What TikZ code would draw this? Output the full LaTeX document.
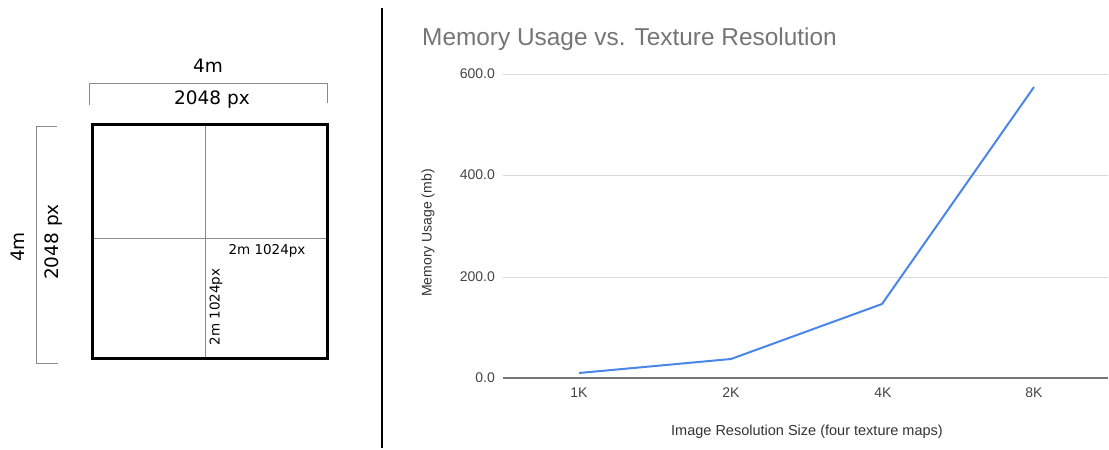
\documentclass[tikz,border=0pt]{standalone}
\usepackage{fontspec}
\setmainfont{Liberation Sans}
\newfontfamily\planfont{DejaVu Sans}
\definecolor{titlegray}{HTML}{757575}
\definecolor{labelgray}{HTML}{444444}
\definecolor{gridgray}{HTML}{D9D9D9}
\definecolor{axisgray}{HTML}{777777}
\definecolor{seriesblue}{HTML}{4A86E8}
\definecolor{bracketgray}{HTML}{8A8A8A}
\tikzset{
  bracket/.style={draw=bracketgray,line width=1},
  split/.style={draw=bracketgray,line width=1},
  dimlabel/.style={font=\planfont\fontsize{18.5}{20}\selectfont,inner sep=0},
  celllabel/.style={font=\planfont\fontsize{13.5}{15}\selectfont,inner sep=0},
  ticklabel/.style={font=\fontsize{14}{16}\selectfont,text=labelgray,inner sep=0},
  gridline/.style={draw=gridgray,line width=1},
}
\begin{document}
\begin{tikzpicture}[x=1pt,y=-1pt]
    \useasboundingbox (0,0) rectangle (1109,450);

    % texture square
    \begin{scope}
      \draw[bracket] (89,105) -- (89,83) -- (327,83) -- (327,103);
      \node[dimlabel] (topm) at (208,66) {4m};
      \node[dimlabel] (toppx) at (212,100) {2048 px};

      \draw[bracket] (57,126) -- (36,126) -- (36,363) -- (58,363);
      \node[dimlabel,rotate=90] (leftm) at (18,247) {4m};
      \node[dimlabel,rotate=90] (leftpx) at (54,242) {2048 px};

      \draw[split] (205,124) -- (205,358);
      \draw[split] (92,238) -- (327,238);
      \draw[line width=3] (92,124) rectangle (327,358);

      \node[celllabel] (cellh) at (267,251) {2m 1024px};
      \node[celllabel,rotate=90] (cellv) at (216,307) {2m 1024px};
    \end{scope}

    % divider
    \draw[line width=1.5] (382,8) -- (382,448);

    % chart
    \begin{scope}
      \node[anchor=base west,inner sep=0,text=titlegray,font=\fontsize{24.4}{27}\selectfont]
        (title) at (422,45) {Memory Usage vs. Texture Resolution};

      \path[gridline] (503,74) -- (1108,74);
      \path[gridline] (503,175) -- (1108,175);
      \path[gridline] (503,277) -- (1108,277);
      \path[draw=axisgray,line width=1.5] (503,378) -- (1108,378);

      \node[ticklabel,anchor=east] (y600) at (495,74) {600.0};
      \node[ticklabel,anchor=east] (y400) at (495,175) {400.0};
      \node[ticklabel,anchor=east] (y200) at (495,277) {200.0};
      \node[ticklabel,anchor=east] (y0) at (495,378) {0.0};

      \node[ticklabel] (x1k) at (579,393) {1K};
      \node[ticklabel] (x2k) at (731,393) {2K};
      \node[ticklabel] (x4k) at (883,393) {4K};
      \node[ticklabel] (x8k) at (1034,393) {8K};

      \node[ticklabel,text=black!80,font=\fontsize{14.5}{16}\selectfont] (xtitle) at (807,432) {Image Resolution Size (four texture maps)};
      \node[ticklabel,text=black!80,rotate=90] (ytitle) at (428,233) {Memory Usage (mb)};

      \coordinate (p1) at (579,373);
      \coordinate (p2) at (731,359);
      \coordinate (p3) at (882,304);
      \coordinate (p4) at (1034,87);
      \path[draw=seriesblue,line width=2,line join=round] (p1) -- (p2) -- (p3) -- (p4);
    \end{scope}
  \end{tikzpicture}
\end{document}
